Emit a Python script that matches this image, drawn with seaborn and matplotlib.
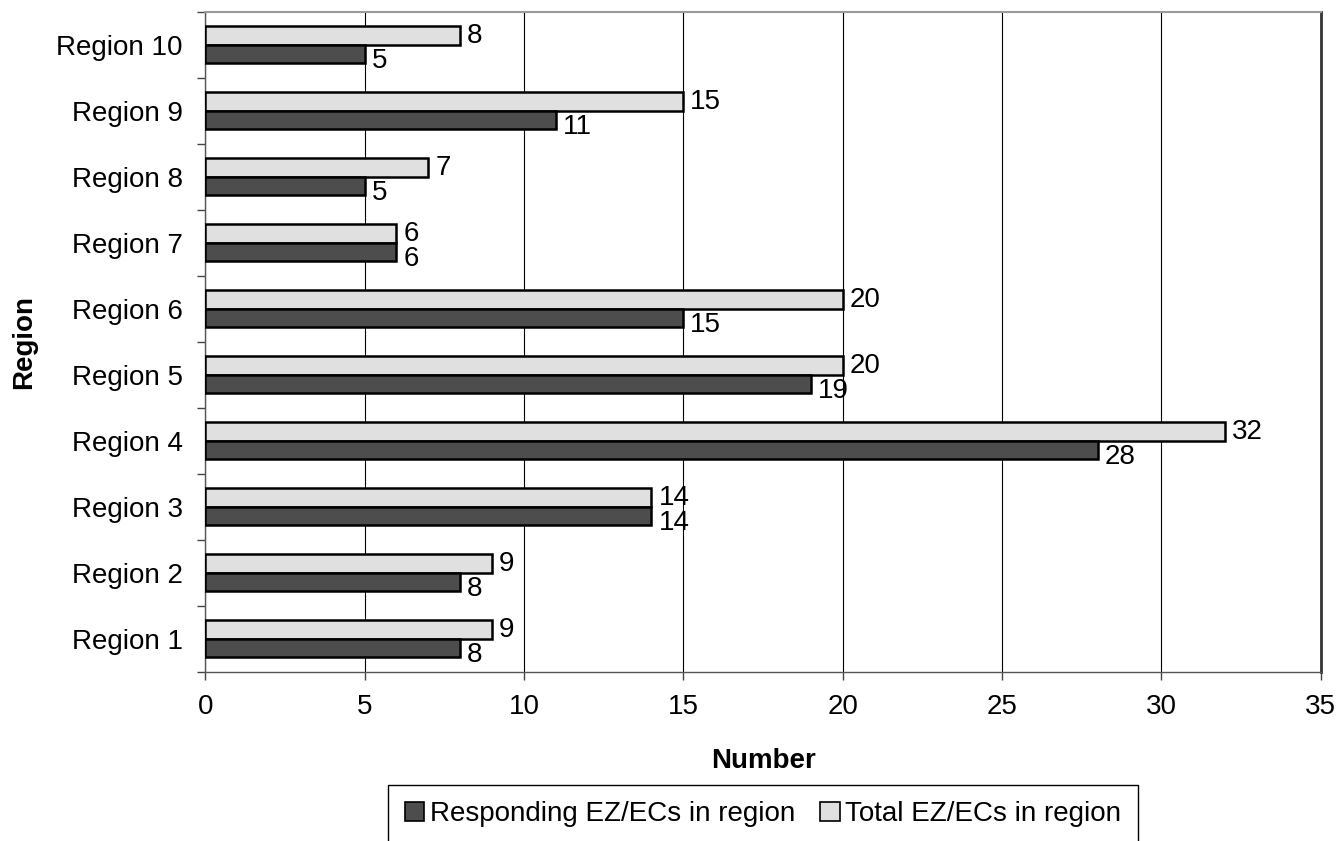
import pandas as pd
import matplotlib.pyplot as plt
import seaborn as sns
from matplotlib.patches import Patch
from matplotlib.ticker import MultipleLocator, FixedLocator

# ---------------- Data ----------------
regions = ["Region 1", "Region 2", "Region 3", "Region 4", "Region 5",
           "Region 6", "Region 7", "Region 8", "Region 9", "Region 10"]
responding = [8, 8, 14, 28, 19, 15, 6, 5, 11, 5]
total = [9, 9, 14, 32, 20, 20, 6, 7, 15, 8]

resp_name = "Responding EZ/ECs in region"
total_name = "Total EZ/ECs in region"

df = pd.concat([
    pd.DataFrame({"Region": regions, "Number": responding, "Series": resp_name}),
    pd.DataFrame({"Region": regions, "Number": total, "Series": total_name}),
], ignore_index=True)

sns.set_style("white")
plt.rcParams["font.family"] = ["Liberation Sans", "DejaVu Sans"]
plt.rcParams["font.size"] = 20
plt.rcParams["text.color"] = "black"
plt.rcParams["axes.labelcolor"] = "black"
plt.rcParams["xtick.color"] = "black"
plt.rcParams["ytick.color"] = "black"

dark = "#4d4d4d"
light = "#e0e0e0"

fig = plt.figure(figsize=(13.41, 8.41), dpi=100)
ax = fig.add_axes([0.153, 0.201, 0.832, 0.785])

sns.barplot(data=df, y="Region", x="Number", hue="Series",
            order=regions[::-1], hue_order=[total_name, resp_name],
            palette={total_name: light, resp_name: dark},
            orient="h", width=0.56, edgecolor="black", linewidth=1.8,
            saturation=1, legend=False, ax=ax, zorder=3)

# data labels
for cont, dy in zip(ax.containers, [0, -5]):
    anns = ax.bar_label(cont, padding=5, fontsize=20)
    for a in anns:
        a.xyann = (5, dy)

ax.set_xlim(0, 35)
ax.set_ylim(9.5, -0.5)
ax.xaxis.set_major_locator(MultipleLocator(5))
ax.grid(axis="x", color="black", linewidth=0.8, zorder=0)
ax.set_axisbelow(True)

ax.yaxis.set_minor_locator(FixedLocator([i + 0.5 for i in range(-1, 10)]))
ax.tick_params(axis="y", which="major", length=0, pad=16, labelsize=20)
ax.tick_params(axis="y", which="minor", left=True, length=6, width=1, color="#444444")
ax.tick_params(axis="x", which="major", bottom=True, length=6, width=1,
               color="#444444", pad=10, labelsize=20)

for s in ["left", "bottom"]:
    ax.spines[s].set_color("#555555")
    ax.spines[s].set_linewidth(1)
ax.spines["top"].set_color("#999999")
ax.spines["top"].set_linewidth(1.5)
ax.spines["right"].set_color("#333333")
ax.spines["right"].set_linewidth(2)

ax.set_xlabel("Number", fontweight="bold", fontsize=20, labelpad=20)
ax.set_ylabel("Region", fontweight="bold", fontsize=20, labelpad=14)

handles = [Patch(facecolor=dark, edgecolor="black", linewidth=1.2, label=resp_name),
           Patch(facecolor=light, edgecolor="black", linewidth=1.2, label=total_name)]
leg = fig.legend(handles=handles, loc="upper center", bbox_to_anchor=(0.569, 0.077),
                 ncol=2, frameon=True, fancybox=False, edgecolor="black",
                 fontsize=20, handlelength=0.7, handleheight=0.7, handletextpad=0.2,
                 columnspacing=0.9, borderpad=0.6, borderaxespad=0.3, framealpha=1)
leg.get_frame().set_linewidth(1)

plt.savefig("out.png", dpi=100)
